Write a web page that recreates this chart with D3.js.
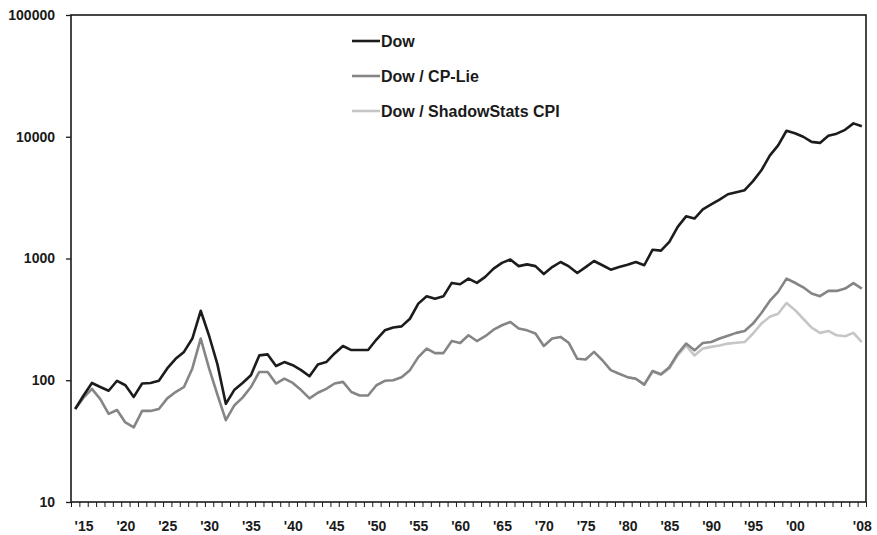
<!DOCTYPE html>
<html lang="en">
<head>
    <meta charset="UTF-8">
    <title>Dow deflated</title>
    <script src="https://d3js.org/d3.v7.min.js"></script>
    <style>
        body { margin: 0; background: #fff; }
        text { font-family: "Liberation Sans", Arial, sans-serif; font-weight: bold; fill: #1a1a1a; }
        .axis text { font-size: 14px; }
        .legend text { font-size: 16px; }
        .series { fill: none; stroke-width: 2.6; stroke-linejoin: round; }
    </style>
</head>
<body>
    <svg width="877" height="535"></svg>
    <script>
        // years 1914 .. 2008, one point per year
        const years = d3.range(1914, 2009);

        const dow = [
            58, 75, 95, 88, 82, 99, 91, 73, 94, 95,          // 1914-1923
            99, 125, 150, 171, 220, 372, 232, 135, 64, 83,   // 1924-1933
            95, 110, 160, 163, 131, 141, 133, 121, 108, 135, // 1934-1943
            141, 166, 191, 177, 177, 177, 216, 257, 271, 277,// 1944-1953
            320, 426, 489, 467, 489, 630, 614, 684, 631, 706,// 1954-1963
            826, 920, 980, 866, 895, 866, 745, 850, 936, 860,// 1964-1973
            761, 850, 954, 880, 810, 852, 890, 936, 880, 1181,// 1974-1983
            1160, 1370, 1820, 2220, 2130, 2530, 2780, 3050, 3370, 3500, // 1984-1993
            3640, 4320, 5300, 7000, 8500, 11200, 10690, 10000, 9070, 8900, // 1994-2003
            10200, 10600, 11400, 12880, 12200                 // 2004-2008
        ];

        const cpLie = [
            58, 72, 85, 70, 53, 57, 45, 41, 56, 56,
            58, 71, 80, 88, 125, 220, 125, 76, 47, 62,
            72, 88, 117, 117, 94, 103, 95, 83, 71, 79,
            85, 94, 97, 80, 75, 75, 91, 99, 100, 106,
            121, 155, 182, 167, 167, 210, 202, 234, 210, 230,
            260, 283, 301, 266, 257, 242, 191, 220, 227, 202,
            150, 148, 171, 146, 121, 113, 106, 103, 92, 119,
            112, 128, 165, 200, 176, 202, 206, 220, 232, 245,
            254, 292, 357, 448, 532, 684, 632, 580, 516, 490,
            542, 542, 566, 628, 566
        ];

        // ShadowStats alternate CPI series, 1980 .. 2008
        const shadowYears = d3.range(1980, 2009);
        const shadow = [
            106, 103, 92, 118, 111, 125, 160, 192, 160, 182,
            188, 193, 200, 203, 206, 242, 292, 332, 352, 431,
            378, 320, 271, 245, 254, 234, 230, 245, 206
        ];

        const tickYears = [1915, 1920, 1925, 1930, 1935, 1940, 1945, 1950, 1955, 1960,
                           1965, 1970, 1975, 1980, 1985, 1990, 1995, 2000, 2008];
        const yTicks = [10, 100, 1000, 10000, 100000];

        const names = ["Dow", "Dow / CP-Lie", "Dow / ShadowStats CPI"];
        const colors = ["#1c1c1c", "#858585", "#c6c6c6"];

        const svg = d3.select("svg");
        const margin = {left: 71, right: 866, top: 15, bottom: 502};

        const x = d3.scaleLinear().domain([1913.5, 2008.5]).range([margin.left, margin.right]);
        const y = d3.scaleLog().domain([10, 100000]).range([margin.bottom, margin.top]);

        // frame
        svg.append("rect")
            .attr("x", margin.left).attr("y", margin.top)
            .attr("width", margin.right - margin.left).attr("height", margin.bottom - margin.top)
            .attr("fill", "none").attr("stroke", "#1a1a1a").attr("stroke-width", 1.6);

        // y axis
        const yAxis = svg.append("g")
            .attr("class", "axis")
            .attr("transform", `translate(${margin.left},0)`)
            .call(d3.axisLeft(y).tickValues(yTicks).tickFormat(d3.format("d")).tickSize(5).tickPadding(11));
        yAxis.select(".domain").remove();
        yAxis.selectAll("line").attr("stroke", "#1a1a1a").attr("stroke-width", 1.3);

        // x ticks at category boundaries
        const xTicks = svg.append("g")
            .attr("transform", `translate(0,${margin.bottom})`)
            .call(d3.axisBottom(x).tickValues(d3.range(1913.5, 2009, 1)).tickFormat("").tickSize(5));
        xTicks.select(".domain").remove();
        xTicks.selectAll("line").attr("stroke", "#1a1a1a").attr("stroke-width", 1);

        // x labels
        const xLabels = svg.append("g")
            .attr("class", "axis")
            .attr("transform", `translate(0,${margin.bottom})`)
            .call(d3.axisBottom(x).tickValues(tickYears)
                .tickFormat(d => "'" + String(d).slice(2)).tickSize(0).tickPadding(19));
        xLabels.select(".domain").remove();

        const line = d3.line()
            .x(d => x(d[0]))
            .y(d => y(d[1]));

        const seriesData = [
            d3.zip(shadowYears, shadow),
            d3.zip(years, cpLie),
            d3.zip(years, dow)
        ];
        const seriesColor = [colors[2], colors[1], colors[0]];

        svg.selectAll(".series")
            .data(seriesData)
            .enter().append("path")
            .attr("class", "series")
            .attr("stroke", (d, i) => seriesColor[i])
            .attr("d", line);

        // legend
        const legend = svg.append("g").attr("class", "legend");
        names.forEach((n, i) => {
            const ly = 41 + i * 35;
            legend.append("line")
                .attr("x1", 352).attr("x2", 380)
                .attr("y1", ly).attr("y2", ly)
                .attr("stroke", colors[i]).attr("stroke-width", 2.6);
            legend.append("text")
                .attr("x", 381).attr("y", ly)
                .attr("dy", "0.36em")
                .text(n);
        });
    </script>
</body>
</html>
